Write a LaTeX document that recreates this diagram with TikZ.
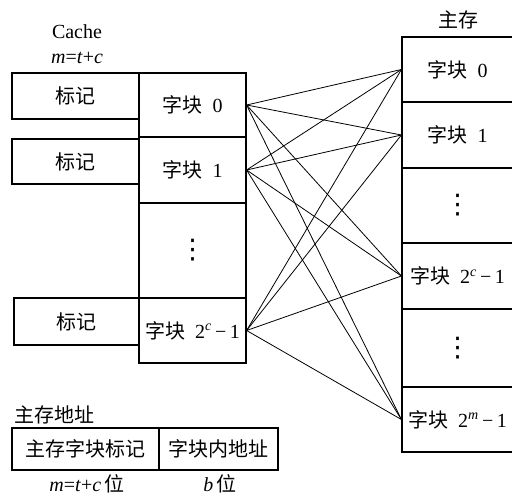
\documentclass[tikz,border=0pt]{standalone}
\usepackage{fontspec}
\setmainfont{Liberation Serif}
\newfontfamily\cjk{Noto Sans CJK SC}
\newfontfamily\symfont{DejaVu Sans}
\newcommand\bigfont{\fontsize{20}{24}\selectfont}
\newcommand\tallvdots{{\symfont\fontsize{27}{30}\selectfont ⋮}}
\tikzset{
  every node/.style={font=\bigfont},
  tagbox/.style={draw, line width=1.2pt, minimum width=127pt, inner sep=0pt},
  blk/.style={draw, line width=1.2pt, minimum width=107pt, inner sep=0pt},
  mem/.style={draw, line width=1.2pt, minimum width=111pt, inner sep=0pt},
  link/.style={line width=0.8pt}
}
\begin{document}
\begin{tikzpicture}[x=1pt, y=-1pt]
    \useasboundingbox (0,0) rectangle (512,497);

    % Cache
    \node (cachetitle) at (77,32) {Cache};
    \node (cachewidth) at (77,58) {\textit{m}=\textit{t}+\textit{c}};

    \node[tagbox, minimum height=46pt] (tag0) at (75.5,96) {\cjk 标记};
    \node[tagbox, minimum height=45pt] (tag1) at (75.5,161.5) {\cjk 标记};
    \node[tagbox, minimum height=47pt, minimum width=125pt] (tagn) at (76.5,321.5) {\cjk 标记};

    \node[blk, minimum height=64pt] (cb0) at (192.5,105) {{\cjk 字块}\enspace 0};
    \node[blk, minimum height=66pt] (cb1) at (192.5,170) {{\cjk 字块}\enspace 1};
    \node[blk, minimum height=95pt] (cbd) at (192.5,250.5) {\tallvdots};
    \node[blk, minimum height=65pt] (cbn) at (192.5,330.5) {{\cjk 字块}\enspace 2\textsuperscript{\textit{c}}\,−\,1};

    % 主存
    \node (memtitle) at (458,20) {\cjk 主存};
    \node[mem, minimum height=65pt] (mm0) at (457.5,69.5) {{\cjk 字块}\enspace 0};
    \node[mem, minimum height=66pt] (mm1) at (457.5,135) {{\cjk 字块}\enspace 1};
    \node[mem, minimum height=75pt] (mmd1) at (457.5,205.5) {\tallvdots};
    \node[mem, minimum height=66pt] (mmc) at (457.5,276) {{\cjk 字块}\enspace 2\textsuperscript{\textit{c}}\,−\,1};
    \node[mem, minimum height=78pt] (mmd2) at (457.5,348) {\tallvdots};
    \node[mem, minimum height=65pt] (mmm) at (457.5,419.5) {{\cjk 字块}\enspace 2\textsuperscript{\textit{m}}\,−\,1};

    % 映射连线
    \foreach \s in {cb0,cb1,cbn}
        \foreach \t in {mm0,mm1,mmc,mmm}
            \draw[link] (\s.east) -- (\t.west);

    % 主存地址
    \node[anchor=west] (addrtitle) at (11,415) {\cjk 主存地址};
    \node[draw, line width=1.2pt, minimum width=147pt, minimum height=42pt, inner sep=0pt] (addrtag) at (85.5,449) {\cjk 主存字块标记};
    \node[draw, line width=1.2pt, minimum width=119pt, minimum height=42pt, inner sep=0pt] (addroff) at (218.5,449) {\cjk 字块内地址};
    \node (tagbits) at (87,484) {\textit{m}=\textit{t}+\textit{c}\,{\cjk 位}};
    \node (offbits) at (220,484) {\textit{b}\,{\cjk 位}};
\end{tikzpicture}
\end{document}
